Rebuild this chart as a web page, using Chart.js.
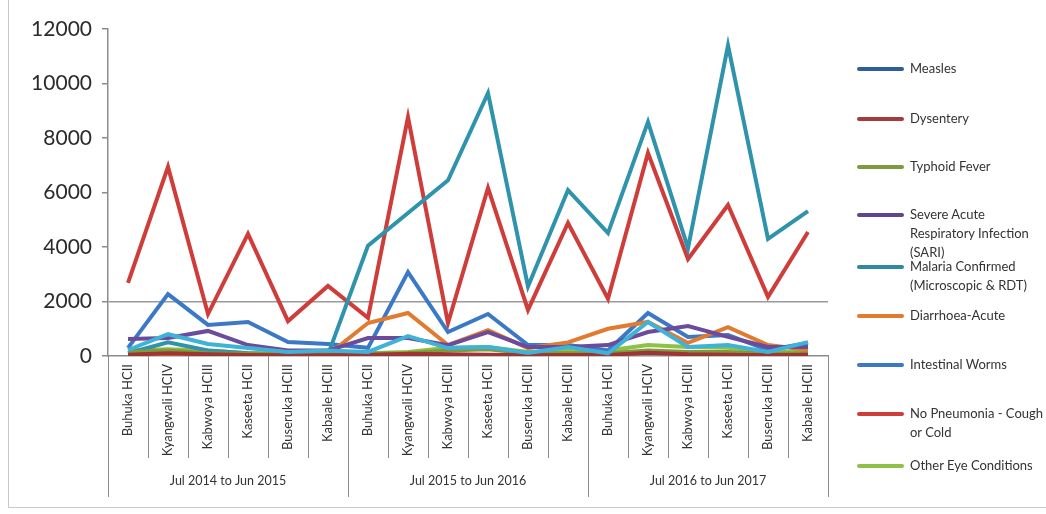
<!DOCTYPE html>
<html>
<head>
<meta charset="utf-8">
<script src="https://cdn.jsdelivr.net/npm/chart.js@4/dist/chart.umd.min.js"></script>
<style>
  html, body { margin: 0; padding: 0; background: #fff; }
  #wrap { position: relative; width: 1046px; height: 514px; overflow: hidden; font-family: Lato, "Open Sans", sans-serif; }
  #frame { position: absolute; left: 8px; top: -2px; width: 1040px; height: 509px; border-left: 1px solid #c8c8c8; border-bottom: 1px solid #c8c8c8; }
  canvas { position: absolute; left: 0; top: 0; }
  #legend { position: absolute; left: 0; top: 0; width: 1046px; height: 514px; pointer-events: none; }
  .item { position: absolute; left: 857px; font-size: 13px; line-height: 19px; color: #333; }
  .sw { position: absolute; left: 0; width: 47px; height: 4px; border-radius: 2px; top: 8px; }
  .tx { position: absolute; left: 53px; white-space: nowrap; }
</style>
</head>
<body>
<div id="wrap">
  <div id="frame"></div>
  <canvas id="c" width="1046" height="514"></canvas>
  <div id="legend"></div>
</div>
<script>
// ---- data ----
const facilities = ['Buhuka HCII', 'Kyangwali HCIV', 'Kabwoya HCIII', 'Kaseeta HCII', 'Buseruka HCIII', 'Kabaale HCIII'];
const periods = ['Jul 2014 to Jun 2015', 'Jul 2015 to Jun 2016', 'Jul 2016 to Jun 2017'];
const yTicks = [0, 2000, 4000, 6000, 8000, 10000, 12000];

const seriesNames = ['Measles', 'Dysentery', 'Typhoid Fever', 'Severe Acute Respiratory Infection (SARI)',
  'Malaria Confirmed (Microscopic & RDT)', 'Diarrhoea-Acute', 'Intestinal Worms', 'No Pneumonia - Cough or Cold', 'Other Eye Conditions'];
const legendLines = [['Measles'], ['Dysentery'], ['Typhoid Fever'], ['Severe Acute', 'Respiratory Infection', '(SARI)'],
  ['Malaria Confirmed', '(Microscopic & RDT)'], ['Diarrhoea-Acute'], ['Intestinal Worms'], ['No Pneumonia - Cough', 'or Cold'], ['Other Eye Conditions']];

const measles      = [220, 800, 440, 290, 150, 200, 150, 730, 290, 330, 110, 330, 100, 1250, 330, 400, 150, 510];
const dysentery    = [50, 100, 60, 40, 30, 30, 40, 80, 60, 50, 30, 40, 40, 120, 60, 50, 30, 50];
const typhoid      = [150, 200, 100, 80, 60, 60, 80, 100, 200, 250, 100, 100, 100, 200, 150, 150, 80, 100];
const sari         = [620, 660, 920, 400, 200, 200, 660, 660, 400, 880, 330, 330, 400, 880, 1100, 700, 330, 330];
const malaria      = [100, 500, 200, 100, 50, 50, 4050, 5250, 6450, 9650, 2550, 6090, 4510, 8590, 3960, 11400, 4300, 5320];
const diarrhoea    = [50, 60, 50, 40, 30, 40, 1210, 1580, 400, 950, 290, 500, 1000, 1250, 480, 1060, 400, 220];
const worms        = [300, 2270, 1140, 1250, 510, 440, 300, 3080, 880, 1540, 400, 400, 200, 1580, 700, 770, 220, 480];
const noPneumonia  = [2680, 6940, 1540, 4480, 1280, 2570, 1400, 8770, 1210, 6170, 1690, 4880, 2100, 7450, 3560, 5540, 2170, 4550];
const otherEye     = [200, 250, 200, 100, 100, 100, 100, 150, 300, 330, 150, 200, 200, 400, 330, 300, 150, 150];

const lineColors   = ['#3fb2d8', '#9e3433', '#7f9a3e', '#6a4b9c', '#2f93ab', '#e07b30', '#3b79c6', '#cf3d3b', '#8dc147'];
const legendColors = ['#2e5e9a', '#a33b3a', '#7f9a3e', '#5f4590', '#2f8aa0', '#e07b30', '#3b79c6', '#cf3d3b', '#8dc147'];

// ---- build ----
const labels = [];
periods.forEach(() => facilities.forEach(f => labels.push(f)));
const groupCenters = periods.map((p, i) => i * facilities.length + (facilities.length - 1) / 2);
const seriesData = [measles, dysentery, typhoid, sari, malaria, diarrhoea, worms, noPneumonia, otherEye];

const datasets = seriesNames.map((n, i) => ({
  label: n, data: seriesData[i], borderColor: lineColors[i], backgroundColor: lineColors[i],
  borderWidth: 4, pointRadius: 0, tension: 0, fill: false
}));

const separators = {
  id: 'separators',
  afterDraw(chart) {
    const s = chart.scales.x2, ctx = chart.ctx, top = chart.chartArea.bottom;
    ctx.save();
    ctx.strokeStyle = '#8c8c8c'; ctx.lineWidth = 1;
    for (let b = 0; b <= labels.length; b++) {
      const x = Math.round(s.getPixelForValue(b - 0.5)) + 0.5;
      const isGroup = b % facilities.length === 0;
      ctx.beginPath(); ctx.moveTo(x, top); ctx.lineTo(x, isGroup ? 497 : 458); ctx.stroke();
    }
    ctx.restore();
  }
};

new Chart(document.getElementById('c'), {
  type: 'line',
  data: { labels, datasets },
  plugins: [separators],
  options: {
    responsive: false, animation: false, devicePixelRatio: 1,
    layout: { padding: { left: 0, right: 218, top: 29, bottom: 17 } },
    plugins: { legend: { display: false }, tooltip: { enabled: false } },
    scales: {
      y: {
        min: 0, max: 12000,
        afterBuildTicks: s => { s.ticks = yTicks.map(v => ({ value: v })); },
        afterFit: s => { s.width = 108; },
        ticks: { font: { family: 'Lato', size: 21 }, color: '#2b2b2b', padding: 10, callback: v => String(v) },
        grid: { color: c => (c.tick && c.tick.value === 2000) ? '#9a9a9a' : 'rgba(0,0,0,0)', tickColor: '#8c8c8c', tickLength: 6, lineWidth: 1.5 },
        border: { display: true, color: '#8c8c8c', width: 1.5 }
      },
      x: {
        type: 'category', offset: true, weight: 0,
        afterFit: s => { s.height = 102; },
        ticks: { minRotation: 90, maxRotation: 90, autoSkip: false, font: { family: 'Lato', size: 13 }, color: '#333', padding: 8 },
        grid: { display: false, drawTicks: false },
        border: { display: true, color: '#8c8c8c', width: 1.5 }
      },
      x2: {
        type: 'linear', position: 'bottom', weight: 1, min: -0.5, max: 17.5,
        afterBuildTicks: s => { s.ticks = groupCenters.map(v => ({ value: v })); },
        afterFit: s => { s.height = 39; },
        ticks: { autoSkip: false, maxRotation: 0, minRotation: 0, font: { family: 'Lato', size: 12.5 }, color: '#333', padding: 15,
          callback: v => { const i = groupCenters.indexOf(v); return i >= 0 ? periods[i] : ''; } },
        grid: { display: false, drawTicks: false },
        border: { display: false }
      }
    }
  }
});

// ---- HTML legend ----
const legendY = [69, 119, 167, 215, 267, 316, 365, 414, 466];
const lg = document.getElementById('legend');
seriesNames.forEach((n, i) => {
  const d = document.createElement('div');
  d.className = 'item';
  d.style.top = (legendY[i] - 10) + 'px';
  const sw = document.createElement('span'); sw.className = 'sw'; sw.style.background = legendColors[i];
  const tx = document.createElement('span'); tx.className = 'tx'; tx.innerHTML = legendLines[i].map(t => t.replace(/&/g, '&amp;')).join('<br>');
  d.appendChild(sw); d.appendChild(tx); lg.appendChild(d);
});
</script>
</body>
</html>
